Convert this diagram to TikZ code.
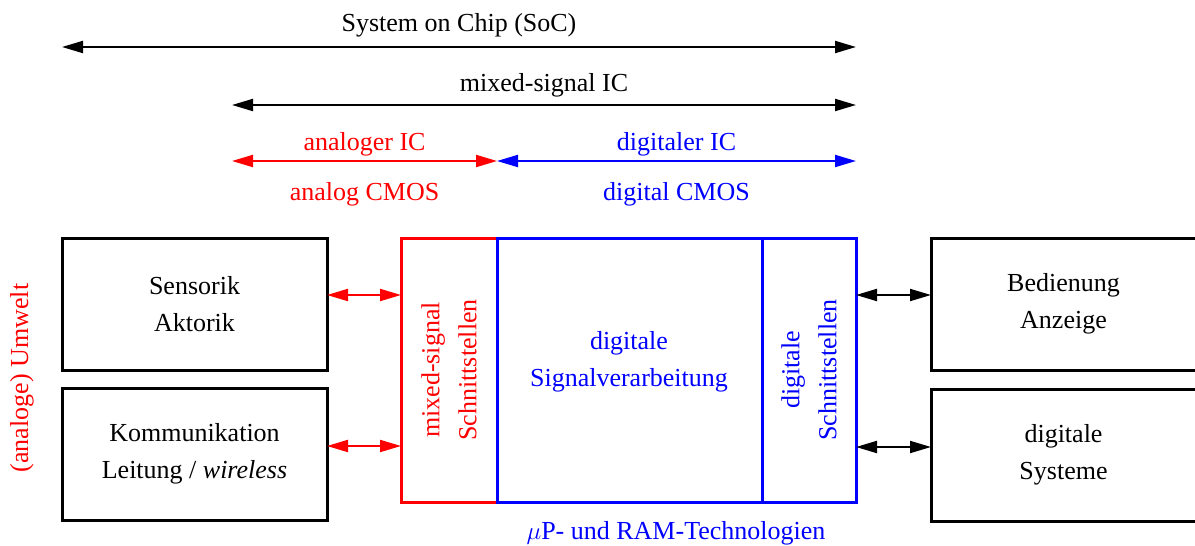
\documentclass[tikz,border=0pt]{standalone}
\usepackage{fontspec}
\setmainfont{Liberation Serif}
\usetikzlibrary{arrows.meta,positioning}

\begin{document}
\begin{tikzpicture}[x=1pt,y=-1pt,
 font=\fontsize{26}{37}\selectfont,
  outbox/.style = {rectangle, draw, line width=3pt,% boxes outside the chip
                   minimum width=265pt, minimum height=132pt,
                   outer sep=0pt, align=center, anchor=north west},
  chipbox/.style = {rectangle, draw, line width=3pt,% blocks of the chip
                   minimum height=264pt, inner sep=0pt,
                   outer sep=0pt, anchor=north west},
      arr/.style = {{Triangle[length=21pt,width=12pt]}-{Triangle[length=21pt,width=12pt]},
                    line width=2pt},
                    ]
\useasboundingbox (0,0) rectangle (1195,546);
% boxes left and right
\node[outbox] (sens) at (62,238)  {Sensorik\\Aktorik};
\node[outbox] (komm) at (62,388)  {Kommunikation\\Leitung / \textit{wireless}};
\node[outbox] (bed)  at (931,238) {Bedienung\\Anzeige};
\node[outbox] (dsys) at (931,389) {digitale\\Systeme};
% the chip
\node[chipbox, red,  minimum width=96pt]  (ms)  at (401,238) {};
\node[chipbox, blue, minimum width=265pt] (dsp) at (497,238) {};
\node[chipbox, blue, minimum width=94pt]  (dio) at (762,238) {};
\node[red, rotate=90, align=center]  (mstxt)  at (ms)  {mixed-signal\\Schnittstellen};
\node[blue, align=center]            (dsptxt) at (629,362) {digitale\\Signalverarbeitung};
\node[blue, rotate=90, align=center] (diotxt) at (dio) {digitale\\Schnittstellen};
\node[blue] (tech) at (676,533) {$\mu$P- und RAM-Technologien};
\node[red, rotate=90] (umw) at (22,378) {(analoge) Umwelt};
% connections
\foreach \a/\b/\s in {sens/ms/9pt, komm/ms/8pt}
    \draw[arr, red] ([yshift=\s]\a.east) -- ([yshift=\s]\b.west |- \a.east);
\foreach \a/\b/\s in {bed/dio/9pt, dsys/dio/8pt}
    \draw[arr] ([yshift=\s]\b.east |- \a.west) -- ([yshift=\s]\a.west);
% ranges above
\coordinate (soc1) at (62,47);   \coordinate (soc2) at (856,47);
\coordinate (mix1) at (232,105); \coordinate (mix2) at (856,105);
\coordinate (ana1) at (232,161); \coordinate (ana2) at (497,161);
\coordinate (dig2) at (856,161);
\draw[arr] (soc1) -- node[above=6pt] {System on Chip (SoC)} (soc2);
\draw[arr] (mix1) -- node[above=4pt] {mixed-signal IC} (mix2);
\draw[arr, red]  (ana1) -- node[above=1pt] {analoger IC}
                            node[below=17pt] {analog CMOS} (ana2);
\draw[arr, blue] (ana2) -- node[above=1pt] {digitaler IC}
                            node[below=17pt] {digital CMOS} (dig2);
\end{tikzpicture}
\end{document}
